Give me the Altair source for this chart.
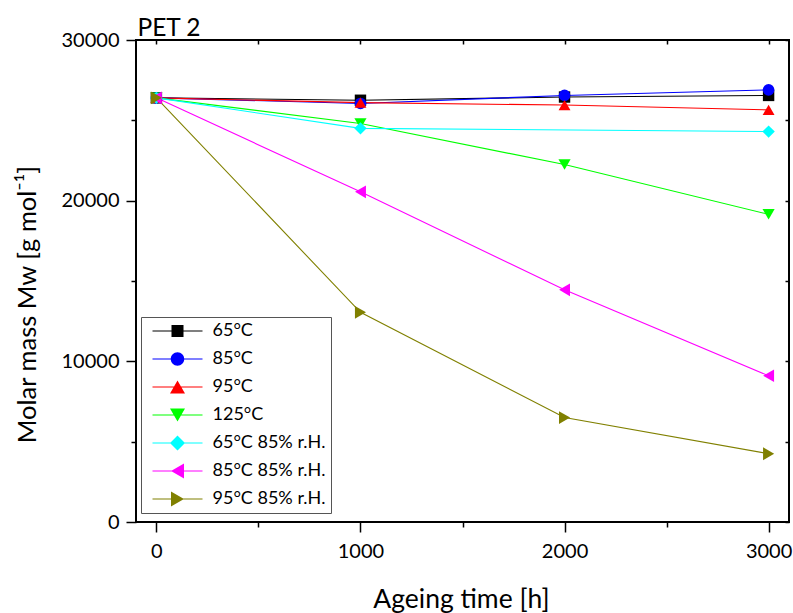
import altair as alt
import pandas as pd

# Ageing time points [h]
hours = [0, 1000, 2000, 3000]

# Series labels, in drawing order
series_names = ["65°C", "85°C", "95°C", "125°C",
                "65°C 85% r.H.", "85°C 85% r.H.", "95°C 85% r.H."]

# Molar mass Mw [g/mol] per series (None = not measured)
mw_65 = [26400, 26250, 26450, 26550]
mw_85 = [26400, 26050, 26550, 26900]
mw_95 = [26400, 26100, 25950, 25650]
mw_125 = [26400, 24800, 22250, 19150]
mw_65_rh = [26400, 24500, None, 24300]
mw_85_rh = [26400, 20550, 14450, 9100]
mw_95_rh = [26400, 13050, 6500, 4250]

all_series = [mw_65, mw_85, mw_95, mw_125, mw_65_rh, mw_85_rh, mw_95_rh]

# Axis tick values
x_ticks = [0, 500, 1000, 1500, 2000, 2500, 3000]
y_ticks = [0, 5000, 10000, 15000, 20000, 25000, 30000]

colors = ["#000000", "#0000FF", "#FF0000", "#00FF00", "#00FFFF", "#FF00FF", "#808000"]
shapes = ["square", "circle", "triangle-up", "triangle-down",
          "diamond", "triangle-left", "triangle-right"]
sizes = [130, 165, 215, 215, 210, 210, 210]

# Legend symbols: short line with the marker on top (units of 5 px)
seg = "M-5,-0.11H5V0.11H-5Z "
legend_paths = [
    seg + "M-1.2,-1.2H1.2V1.2H-1.2Z",
    seg + "M-1.35,0A1.35,1.35,0,1,1,1.35,0A1.35,1.35,0,1,1,-1.35,0Z",
    seg + "M0,-1.3L1.5,1.3L-1.5,1.3Z",
    seg + "M0,1.3L-1.5,-1.3L1.5,-1.3Z",
    seg + "M0,-1.5L1.5,0L0,1.5L-1.5,0Z",
    seg + "M-1.3,0L1.3,-1.5L1.3,1.5Z",
    seg + "M1.3,0L-1.3,1.5L-1.3,-1.5Z",
]

rows = []
for name, vals in zip(series_names, all_series):
    for h, v in zip(hours, vals):
        if v is not None:
            rows.append({"series": name, "hours": h, "mw": v})
df = pd.DataFrame(rows)

FONT = "Lato"

x_scale = alt.Scale(domain=[-100, 3100], nice=False, zero=False)
y_scale = alt.Scale(domain=[0, 30000], nice=False)


def major_minor(step, major, minor):
    return {"condition": {"test": f"datum.value % {step} === 0", "value": major},
            "value": minor}


x_axis_bottom = alt.Axis(
    orient="bottom", values=x_ticks, format="d",
    labelExpr="datum.value % 1000 === 0 ? datum.label : ''",
    tickSize=major_minor(1000, 10, 5), tickWidth=1.5, tickColor="black",
    domain=False, grid=False,
    labelFont=FONT, labelFontSize=20, labelColor="black", labelPadding=9,
    title="Ageing time [h]", titleFont=FONT, titleFontSize=26.5,
    titleFontWeight="normal", titleColor="black",
    titleX=325, titleY=85, titleBaseline="alphabetic",
)
y_axis_left = alt.Axis(
    orient="left", values=y_ticks, format="d",
    labelExpr="datum.value % 10000 === 0 ? datum.label : ''",
    tickSize=major_minor(10000, 10, 5), tickWidth=1.5, tickColor="black",
    domain=False, grid=False,
    labelFont=FONT, labelFontSize=20, labelColor="black", labelPadding=7,
    title="Molar mass Mw [g mol⁻¹]", titleFont=FONT, titleFontSize=25.5,
    titleFontWeight="normal", titleColor="black",
    titleX=-101, titleY=264, titleBaseline="alphabetic", titleAngle=270,
)
# Mirror ticks pointing into the frame; the top axis also carries the panel name
x_axis_top = alt.Axis(orient="top", values=x_ticks, labels=False, domain=False,
                      grid=False, tickSize=4, offset=-4,
                      tickWidth=1.5, tickColor="black",
                      title="PET 2", titleFont=FONT, titleFontSize=24.5,
                      titleFontWeight="normal", titleColor="black",
                      titleAlign="left", titleAngle=0, titleBaseline="alphabetic",
                      titleX=1, titleY=-9)
y_axis_right = alt.Axis(orient="right", values=y_ticks, labels=False, domain=False,
                        grid=False, title=None, tickSize=4, offset=-4,
                        tickWidth=1.5, tickColor="black")

color_scale = alt.Scale(domain=series_names, range=colors)

lines = alt.Chart(df).mark_line(strokeWidth=1.1).encode(
    x=alt.X("hours:Q", scale=x_scale, axis=x_axis_bottom),
    y=alt.Y("mw:Q", scale=y_scale, axis=y_axis_left),
    color=alt.Color("series:N", scale=color_scale, legend=None),
)

points = alt.Chart(df).mark_point(filled=True, opacity=1).encode(
    x=alt.X("hours:Q", scale=x_scale, axis=x_axis_top),
    y=alt.Y("mw:Q", scale=y_scale, axis=y_axis_right),
    color=alt.Color("series:N", scale=color_scale, legend=None),
    shape=alt.Shape("series:N", scale=alt.Scale(domain=series_names, range=shapes),
                    legend=None),
    size=alt.Size("series:N", scale=alt.Scale(domain=series_names, range=sizes),
                  legend=None),
)

legend_spec = alt.Legend(
    orient="none", legendX=5, legendY=277, title=None,
    labelFont=FONT, labelFontSize=18, labelColor="black",
    symbolSize=100, symbolStrokeWidth=0, symbolOffset=22.5, labelOffset=26,
    rowPadding=10, padding=5, strokeColor="#555555", fillColor="white",
)

# Legend-only layer: the entries come from the explicit scale domains
legend_layer = alt.Chart(df).transform_filter("false").mark_point(
    filled=True, opacity=1
).encode(
    color=alt.Color("series:N", scale=alt.Scale(domain=series_names, range=colors),
                    legend=legend_spec),
    shape=alt.Shape("series:N", scale=alt.Scale(domain=series_names, range=legend_paths),
                    legend=legend_spec),
)

chart = alt.layer(lines, points, legend_layer).resolve_scale(
    color="independent", shape="independent", size="independent"
).resolve_axis(
    x="independent", y="independent"
).properties(
    width=653, height=482,
    autosize=alt.AutoSizeParams(type="none"),
    padding={"left": 136, "top": 40, "right": 4, "bottom": 91},
    background="white",
).configure_view(stroke="black", strokeWidth=2)

chart.save("out.html", embed_options={"renderer": "svg", "actions": False})
